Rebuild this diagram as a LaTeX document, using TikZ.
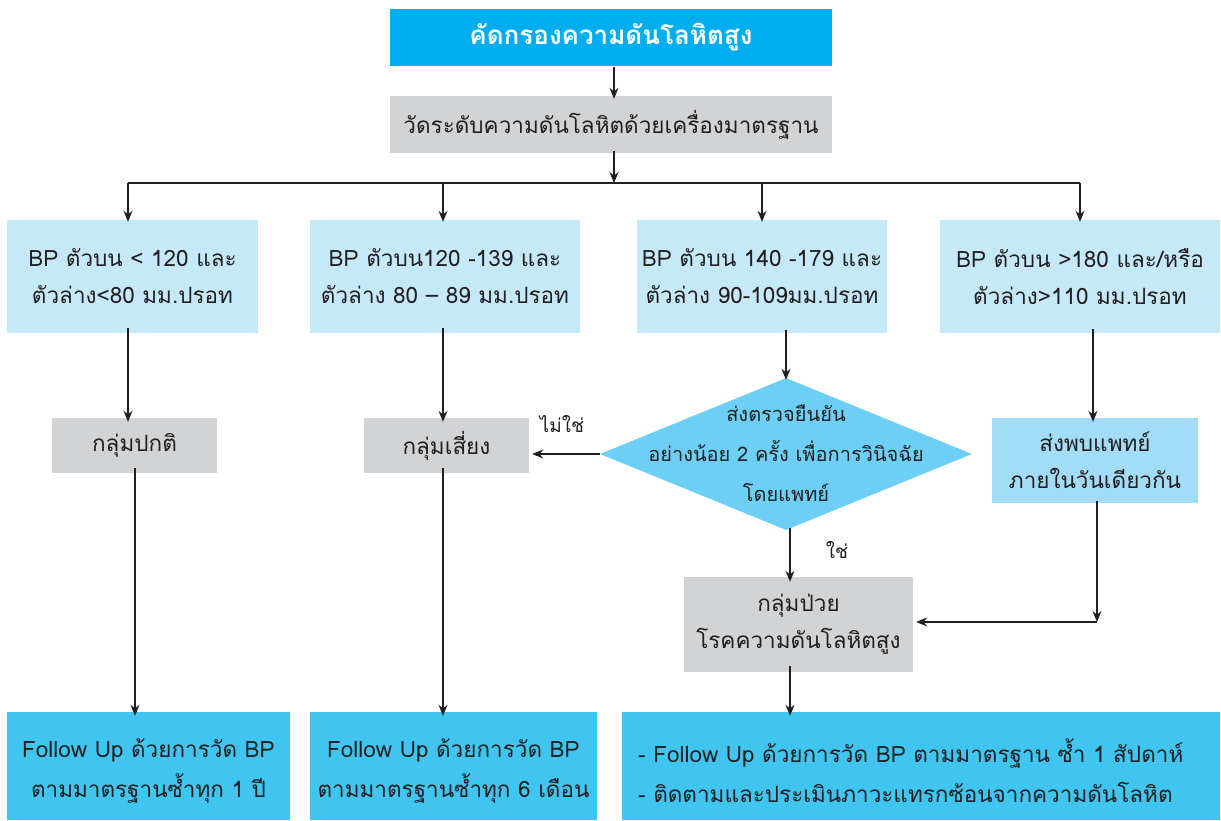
\documentclass[tikz,border=0pt]{standalone}
\usepackage{fontspec}
\setmainfont[Script=Thai]{Loma}
\usetikzlibrary{shapes.geometric,arrows.meta}
\definecolor{txt}{HTML}{231F20}
\definecolor{cyanhead}{HTML}{00AEEF}
\definecolor{grayfill}{HTML}{D1D3D4}
\definecolor{paleblue}{HTML}{C6E9FA}
\definecolor{midblue}{HTML}{A3DCF6}
\definecolor{diamondblue}{HTML}{6DCFF6}
\definecolor{deepblue}{HTML}{40C5F1}
\tikzset{
  box/.style={rectangle, inner sep=0pt, align=center, text=txt, font=\fontsize{22.5}{37}\selectfont},
  headbox/.style={box, fill=cyanhead, text=white, font=\fontsize{26}{30}\selectfont\bfseries},
  graybox/.style={box, fill=grayfill},
  levelbox/.style={box, fill=paleblue},
  referbox/.style={box, fill=midblue},
  endbox/.style={box, fill=deepblue},
  endtext/.style={box, font=\fontsize{22.5}{40}\selectfont},
  decision/.style={diamond, fill=diamondblue, inner sep=0pt},
  decisiontext/.style={box, font=\fontsize{20}{40}\selectfont},
  arr/.style={draw=txt, line width=1.3pt, -{Stealth[length=11pt,width=9pt]}},
  ln/.style={draw=txt, line width=1.3pt},
  lbl/.style={text=txt, font=\fontsize{19}{22}\selectfont}
}
\begin{document}
\begin{tikzpicture}[x=1pt,y=-1pt]
\useasboundingbox (0,0) rectangle (1221,821);

% screening and measurement
\node[headbox, minimum width=442pt, minimum height=57pt] (head) at (611,37.5) {คัดกรองความดันโลหิตสูง};
\node[graybox, minimum width=442pt, minimum height=57pt] (measure) at (611,124.5) {วัดระดับความดันโลหิตด้วยเครื่องมาตรฐาน};

% four pressure levels
\node[levelbox, minimum width=251pt, minimum height=113pt] (l1) at (132.5,276.5) {BP ตัวบน < 120 และ\\ตัวล่าง<80 มม.ปรอท};
\node[levelbox, minimum width=270pt, minimum height=113pt] (l2) at (445,276.5) {BP ตัวบน120 -139 และ\\ตัวล่าง 80 – 89 มม.ปรอท};
\node[levelbox, minimum width=250pt, minimum height=113pt] (l3) at (762,276.5) {BP ตัวบน 140 -179 และ\\ตัวล่าง 90-109มม.ปรอท};
\node[levelbox, minimum width=280pt, minimum height=113pt] (l4) at (1080,276.5) {BP ตัวบน >180 และ/หรือ\\ตัวล่าง>110 มม.ปรอท};

% groups
\node[graybox, minimum width=165pt, minimum height=55pt] (normal) at (134.5,445.5) {กลุ่มปกติ};
\node[graybox, minimum width=165pt, minimum height=55pt] (risk) at (446.5,445.5) {กลุ่มเสี่ยง};
\node[decision, minimum width=372pt, minimum height=152pt] (confirm) at (786,454) {};
\node[decisiontext] (confirmtext) at (786,453) {ส่งตรวจยืนยัน\\อย่างน้อย 2 ครั้ง เพื่อการวินิจฉัย\\โดยแพทย์};
\node[referbox, minimum width=206pt, minimum height=85pt] (refer) at (1095,460.5) {ส่งพบแพทย์\\ภายในวันเดียวกัน};
\node[graybox, minimum width=229pt, minimum height=95pt] (patient) at (798.5,624.5) {กลุ่มป่วย\\โรคความดันโลหิตสูง};

% follow-up actions
\node[endbox, minimum width=283pt, minimum height=108pt] (f1) at (148.5,766) {};
\node[endtext] (f1text) at (148.5,771) {Follow Up ด้วยการวัด BP\\ตามมาตรฐานซ้ำทุก 1 ปี};
\node[endbox, minimum width=287pt, minimum height=108pt] (f2) at (453.5,766) {};
\node[endtext] (f2text) at (453.5,771) {Follow Up ด้วยการวัด BP\\ตามมาตรฐานซ้ำทุก 6 เดือน};
\node[endbox, minimum width=598pt, minimum height=108pt] (f3) at (921,766) {};
\node[endtext, align=left, anchor=west] (f3text) at (638,771) {- Follow Up ด้วยการวัด BP ตามมาตรฐาน ซ้ำ 1 สัปดาห์\\- ติดตามและประเมินภาวะแทรกซ้อนจากความดันโลหิต};

% branch labels
\node[lbl] (no) at (562,424) {ไม่ใช่};
\node[lbl] (yes) at (837,550) {ใช่};

% connectors
\coordinate (split) at (614,183);
\coordinate (d1) at (128,183);
\coordinate (d2) at (443,183);
\coordinate (d3) at (762,183);
\coordinate (d4) at (1080,183);
\draw[arr] (head.south -| split) ++(0,1) -- ([yshift=-3pt]measure.north -| split);
\draw[arr] ([yshift=2pt]measure.south -| split) -- (split);
\draw[ln] (d1) -- (d4);
\draw[arr] (d1) -- ([yshift=-2pt]l1.north -| d1);
\draw[arr] (d2) -- ([yshift=-2pt]l2.north -| d2);
\draw[arr] (d3) -- ([yshift=-2pt]l3.north -| d3);
\draw[arr] (d4) -- ([yshift=-2pt]l4.north -| d4);

\draw[arr] ([yshift=5pt]l1.south -| d1) -- ([yshift=-4pt]normal.north -| d1);
\draw[arr] ([yshift=5pt]l2.south -| d2) -- ([yshift=-4pt]risk.north -| d2);
\draw[arr] ([yshift=3pt]l3.south -| confirm.north) -- ([yshift=-2pt]confirm.north);
\draw[arr] ([yshift=4pt]l4.south -| 1093,0) -- ([yshift=-4pt]refer.north -| 1093,0);

\draw[arr] (confirm.west) -- ([xshift=3pt]confirm.west -| risk.east);
\draw[arr] ([xshift=4pt,yshift=2pt]confirm.south) -- ([xshift=4pt,yshift=-5pt]confirm.south |- patient.north);
\draw[arr] ([yshift=2pt]refer.south -| 1097,0) -- (1097,622);
\draw[arr] (1097,622) -- ([xshift=3pt]patient.east |- 0,622);

\draw[arr] ([yshift=5pt]normal.south -| 135,0) -- ([yshift=-4pt]f1.north -| 135,0);
\draw[arr] ([yshift=5pt]risk.south -| d2) -- ([yshift=-4pt]f2.north -| d2);
\draw[arr] ([yshift=6pt]patient.south -| 790,0) -- ([yshift=-4pt]f3.north -| 790,0);
\end{tikzpicture}
\end{document}
